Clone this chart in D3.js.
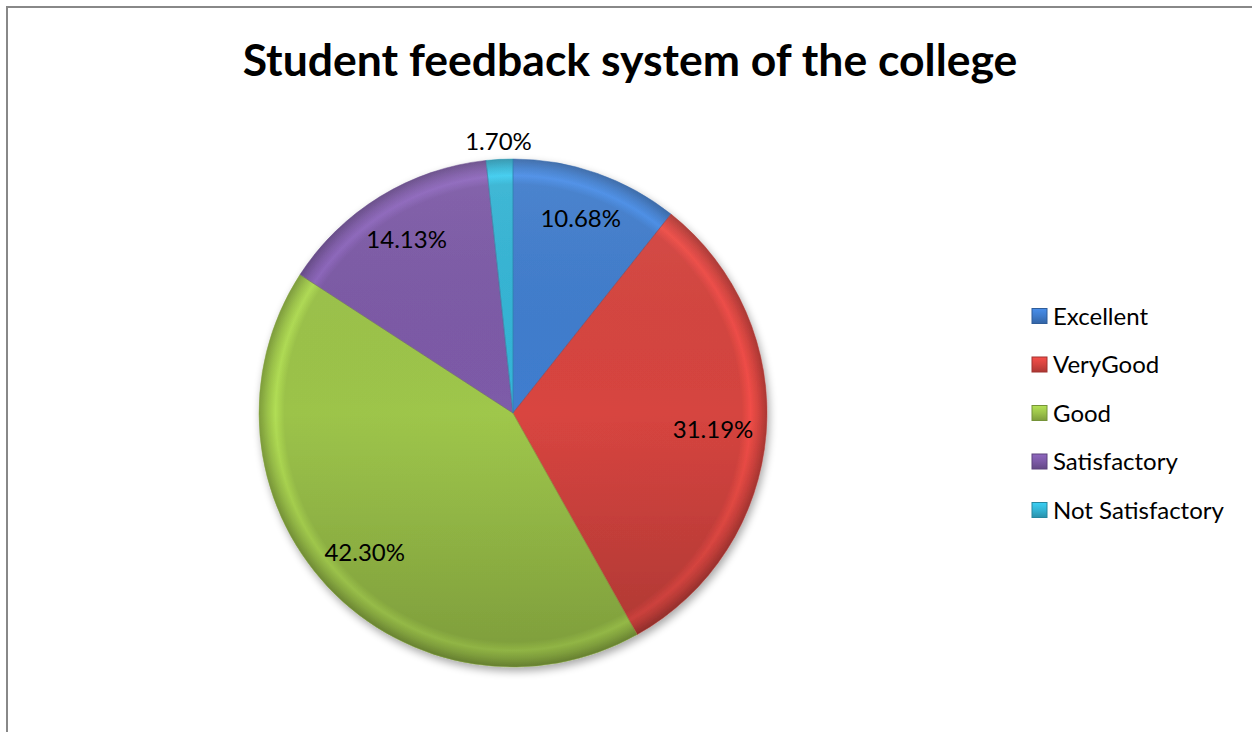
<!DOCTYPE html>
<html><head><meta charset="utf-8">
<script src="https://cdn.jsdelivr.net/npm/d3@7"></script>
<style>body{margin:0;background:#fff}svg{display:block}</style>
</head><body>
<svg id="c" width="1252" height="732"></svg>
<script>
const categories = ["Excellent","VeryGood","Good","Satisfactory","Not Satisfactory"];
const values = [10.68, 31.19, 42.30, 14.13, 1.70];
const labels = ["10.68%","31.19%","42.30%","14.13%","1.70%"];
const colors = ["#3f7ccc","#d5443f","#9cc34a","#7c59a6","#33b4d4"];
const title = "Student feedback system of the college";

const svg = d3.select("#c");
const defs = svg.append("defs");
svg.append("rect").attr("x",7).attr("y",7).attr("width",1260).attr("height",740)
  .attr("fill","#fff").attr("stroke","#888").attr("stroke-width",2);

svg.append("text").attr("x",630).attr("y",76).attr("text-anchor","middle")
  .style("font-family","Lato, 'Open Sans', sans-serif").style("font-weight","bold")
  .style("font-size","44.5px").attr("fill","#000").text(title);

const cx=513, cy=413, R=254;
const g = svg.append("g").attr("transform",`translate(${cx},${cy})`);

const f = defs.append("filter").attr("id","sh").attr("x","-20%").attr("y","-20%").attr("width","140%").attr("height","140%");
f.append("feGaussianBlur").attr("in","SourceAlpha").attr("stdDeviation",4);
f.append("feOffset").attr("dx",2).attr("dy",4).attr("result","b");
f.append("feComponentTransfer").append("feFuncA").attr("type","linear").attr("slope",0.35);
const fm=f.append("feMerge"); fm.append("feMergeNode"); fm.append("feMergeNode").attr("in","SourceGraphic");

colors.forEach((c,i)=>{
  const rg = defs.append("radialGradient").attr("id","rg"+i).attr("gradientUnits","userSpaceOnUse")
    .attr("cx",0).attr("cy",0).attr("r",R);
  const base=d3.color(c);
  [[0,base.brighter(0.05)],[0.9,base],[0.935,base.brighter(0.35)],[0.965,base],[1,base.darker(0.6)]]
    .forEach(([o,col])=>rg.append("stop").attr("offset",o).attr("stop-color",col));
  const lg = defs.append("linearGradient").attr("id","lg"+i).attr("x1",0).attr("y1",0).attr("x2",0).attr("y2",1);
  lg.append("stop").attr("offset",0).attr("stop-color",base.brighter(0.4));
  lg.append("stop").attr("offset",0.5).attr("stop-color",base);
  lg.append("stop").attr("offset",1).attr("stop-color",base.darker(0.6));
});
const shade = defs.append("linearGradient").attr("id","shade").attr("gradientUnits","userSpaceOnUse")
  .attr("x1",0).attr("y1",-R).attr("x2",0).attr("y2",R);
shade.append("stop").attr("offset",0).attr("stop-color","#fff").attr("stop-opacity",0.08);
shade.append("stop").attr("offset",0.5).attr("stop-color","#000").attr("stop-opacity",0);
shade.append("stop").attr("offset",1).attr("stop-color","#000").attr("stop-opacity",0.2);

const pie = d3.pie().sort(null).value(d=>d)(values);
const arc = d3.arc().innerRadius(0).outerRadius(R);
const gp = g.append("g").attr("filter","url(#sh)");
gp.selectAll("path.s").data(pie).join("path").attr("class","s")
  .attr("d",arc).attr("fill",(d,i)=>`url(#rg${i})`);
gp.selectAll("path.o").data(pie).join("path").attr("class","o")
  .attr("d",arc).attr("fill","url(#shade)");
gp.selectAll("path.e").data(pie).join("path").attr("class","e")
  .attr("d",arc).attr("fill","none").attr("stroke",(d,i)=>d3.color(colors[i]).darker(0.5)).attr("stroke-width",0.8)
  .attr("stroke-opacity",0.6);

const lr = [0.81,0.79,0.8,0.8,1.07];
g.selectAll("text.l").data(pie).join("text").attr("class","l")
  .attr("transform",(d,i)=>{const a=(d.startAngle+d.endAngle)/2; const r=R*lr[i];
     return `translate(${r*Math.sin(a)},${-r*Math.cos(a)})`;})
  .attr("text-anchor","middle").attr("dy","0.36em")
  .style("font-family","Lato, 'Open Sans', sans-serif").style("font-size","24px").attr("fill","#000")
  .text((d,i)=>labels[i]);

const leg = svg.append("g").attr("transform","translate(1032,316)");
const items = leg.selectAll("g").data(categories).join("g").attr("transform",(d,i)=>`translate(0,${i*48.5})`);
items.append("rect").attr("x",0).attr("y",-7.5).attr("width",15).attr("height",15)
  .attr("fill",(d,i)=>`url(#lg${i})`).attr("stroke",(d,i)=>d3.color(colors[i]).darker(0.8)).attr("stroke-width",1);
items.append("text").attr("x",21).attr("dy","0.36em")
  .style("font-family","Lato, 'Open Sans', sans-serif").style("font-size","24px").attr("fill","#000")
  .text(d=>d);
</script>
</body></html>
